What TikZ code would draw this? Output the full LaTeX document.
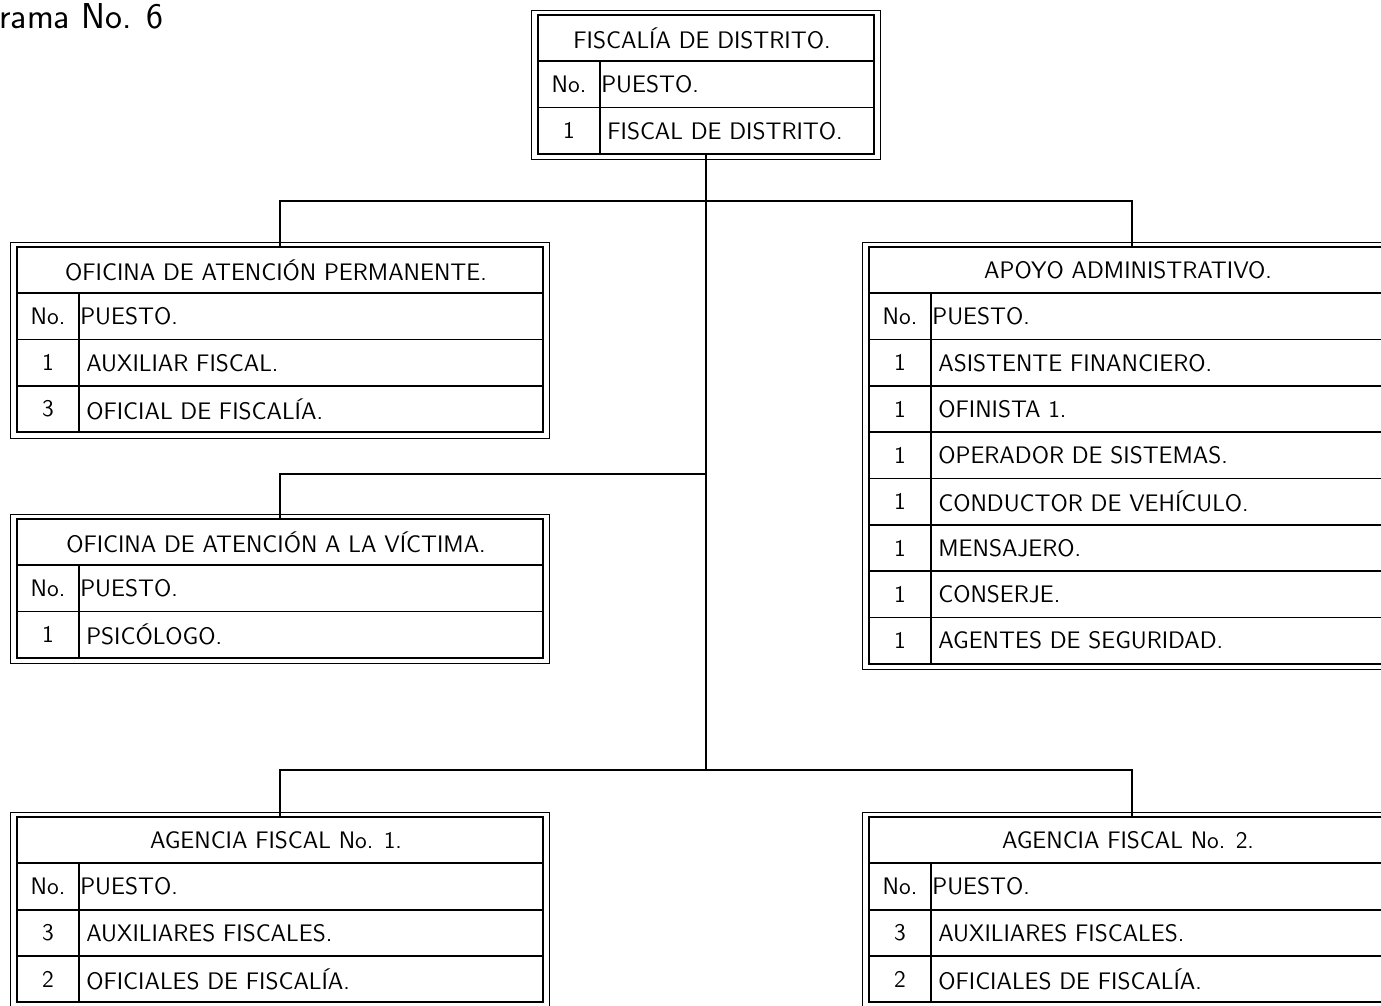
\documentclass[tikz,border=0pt]{standalone}
\usepackage{fontspec}
\usetikzlibrary{calc}

% one table: name, x, y (inner top left, px), width, rows, title, rows list
\newcommand{\tabla}[7]{%
   \pgfmathsetmacro\alto{46.3*(#5+2)}
   \pgfmathtruncatemacro\ultima{#5+1}
   \draw[marco] (#2-7,#3-5) rectangle (#2+#4+6,#3+\alto+6);
   \draw[rejilla] (#2,#3) rectangle (#2+#4,#3+\alto);
   \coordinate (#1-arriba) at (#2+#4/2,#3);
   \coordinate (#1-abajo) at (#2+#4/2,#3+\alto);
   \node[celda] (#1) at (#2+#4/2-4,#3+23.15) {#6};
   \foreach \k in {1,...,\ultima} \draw[rejilla] (#2,#3+46.3*\k) -- (#2+#4,#3+46.3*\k);
   \draw[rejilla] (#2+62,#3+46.3) -- (#2+62,#3+\alto);
   \node[celda] (#1-no) at (#2+31,#3+69.45) {No.};
   \node[celda, anchor=west] (#1-puesto) at (#2+63,#3+69.45) {PUESTO.};
   \foreach \n/\p [count=\k] in {#7} {
      \node[celda] (#1-n\k) at (#2+31,#3+46.3*\k+69.45) {\n};
      \node[celda, anchor=west] (#1-p\k) at (#2+69,#3+46.3*\k+69.45) {\p};
   }
}

\begin{document}
\begin{tikzpicture}[x=0.02cm, y=-0.02cm,
   marco/.style={line width=0.5pt},
   rejilla/.style={line width=1pt},
   conector/.style={line width=0.8pt},
   celda/.style={inner sep=0pt, font=\sffamily\fontsize{13.6}{15}\selectfont\addfontfeatures{LetterSpace=5}}]
   \clip (0,0) rectangle (1381,1005);

   \node[anchor=west, inner sep=0pt, font=\sffamily\fontsize{20.5}{24}\selectfont\addfontfeatures{LetterSpace=9}] (organigrama) at (-1,16) {rama No. 6};

   \tabla{fd}{538}{15}{336}{1}{FISCALÍA DE DISTRITO.}{1/FISCAL DE DISTRITO.}
   \tabla{oap}{17}{247}{526}{2}{OFICINA DE ATENCIÓN PERMANENTE.}{1/AUXILIAR FISCAL., 3/OFICIAL DE FISCALÍA.}
   \tabla{oav}{17}{519}{526}{1}{OFICINA DE ATENCIÓN A LA VÍCTIMA.}{1/PSICÓLOGO.}
   \tabla{apoyo}{869}{247}{526}{7}{APOYO ADMINISTRATIVO.}{1/ASISTENTE FINANCIERO., 1/OFINISTA 1., 1/OPERADOR DE SISTEMAS., 1/CONDUCTOR DE VEHÍCULO., 1/MENSAJERO., 1/CONSERJE., 1/AGENTES DE SEGURIDAD.}
   \tabla{af1}{17}{817}{526}{2}{AGENCIA FISCAL No. 1.}{3/AUXILIARES FISCALES., 2/OFICIALES DE FISCALÍA.}
   \tabla{af2}{869}{817}{526}{2}{AGENCIA FISCAL No. 2.}{3/AUXILIARES FISCALES., 2/OFICIALES DE FISCALÍA.}

   % connectors
   \coordinate (bus1) at ($(fd-abajo)+(0,47)$);
   \coordinate (bus2) at ($(fd-abajo)+(0,320)$);
   \coordinate (bus3) at ($(fd-abajo)+(0,616)$);
   \draw[conector] (fd-abajo) -- (bus3);
   \draw[conector] (oap-arriba) |- (bus1) -| (apoyo-arriba);
   \draw[conector] (oav-arriba) |- (bus2);
   \draw[conector] (af1-arriba) |- (bus3) -| (af2-arriba);
\end{tikzpicture}
\end{document}
